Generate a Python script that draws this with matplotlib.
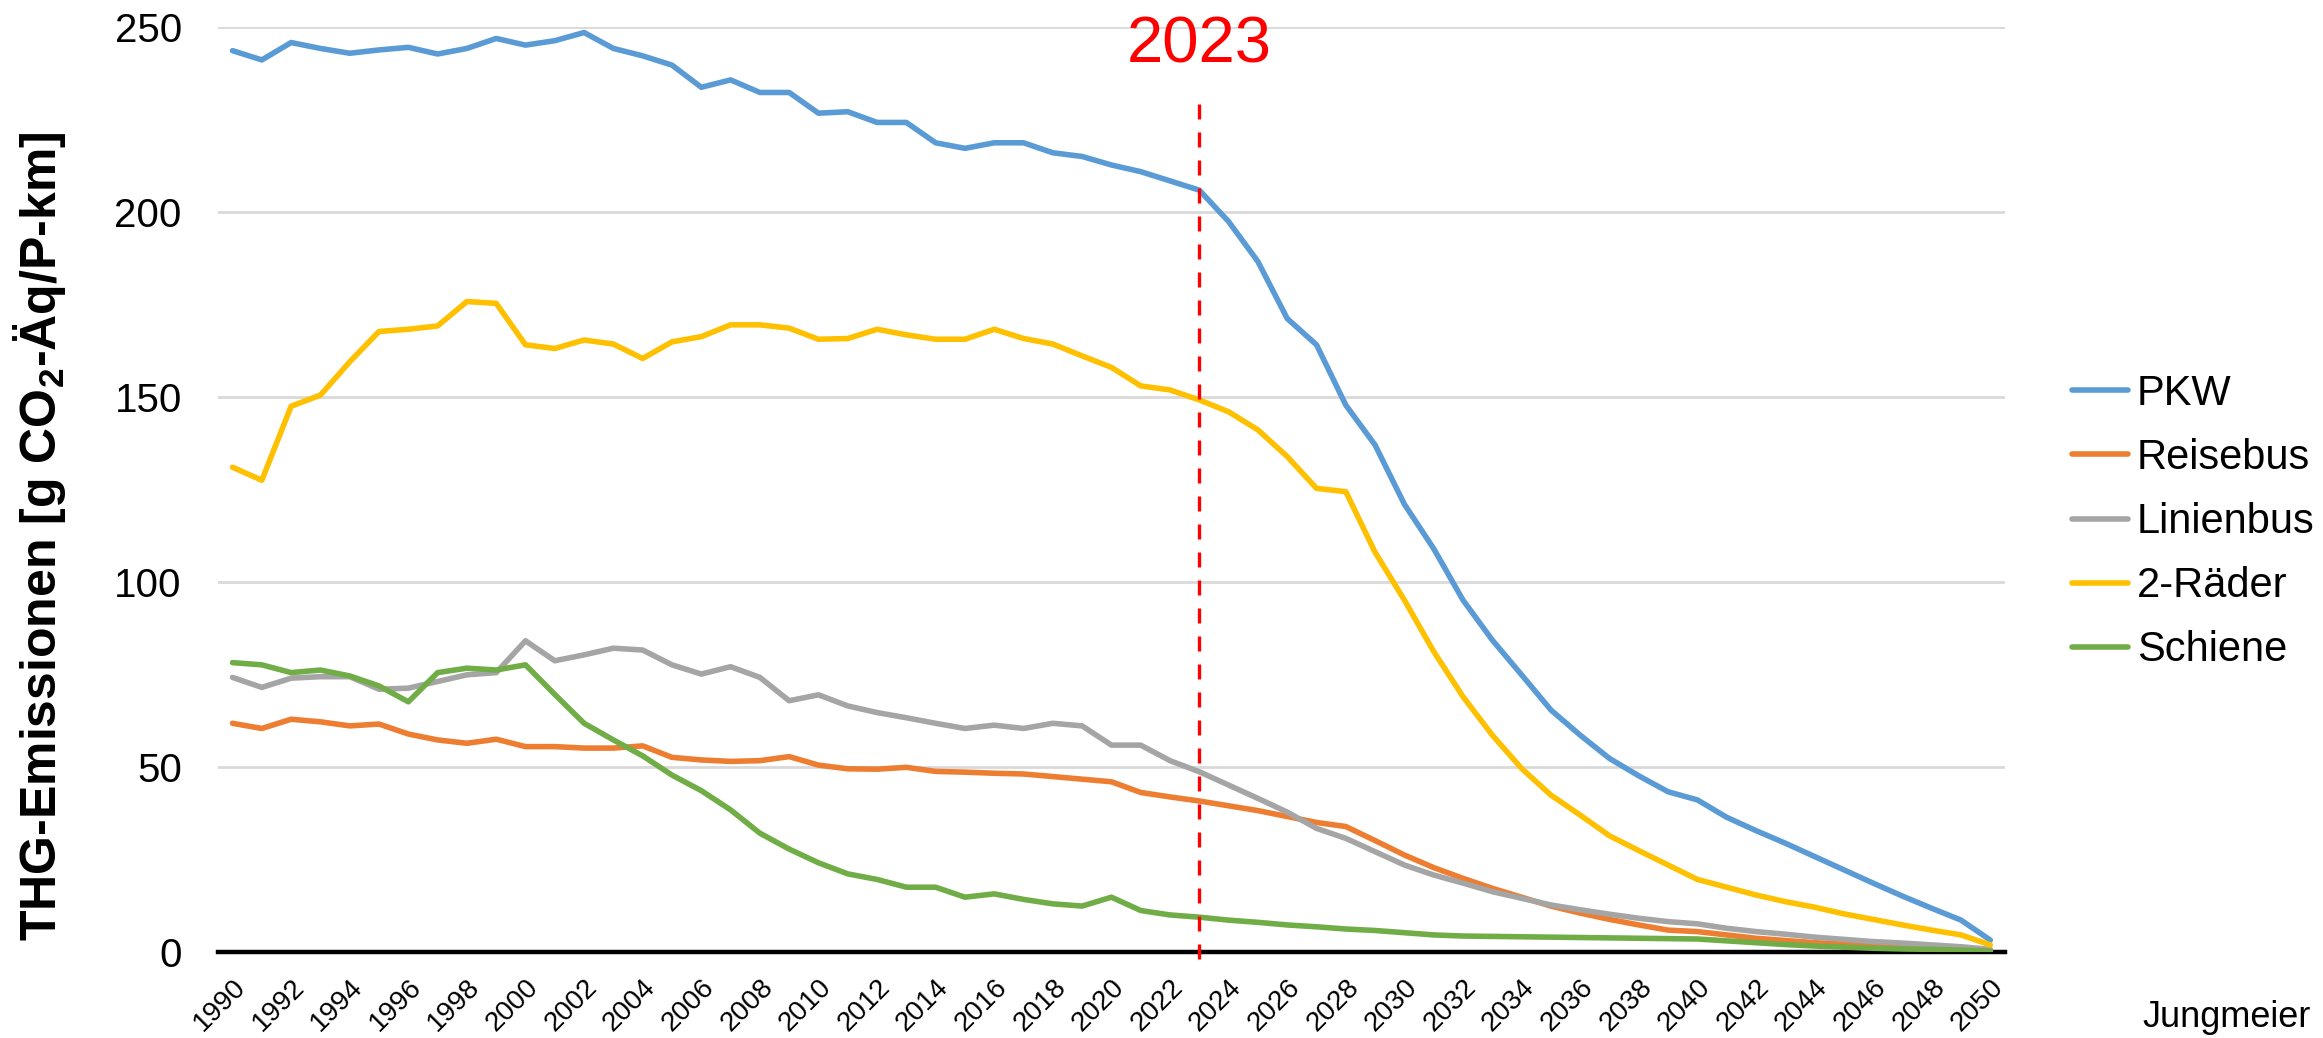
import matplotlib
matplotlib.use("Agg")
import matplotlib.pyplot as plt

plt.rcParams['font.family'] = ['Liberation Sans', 'DejaVu Sans']
plt.rcParams['mathtext.fontset'] = 'custom'
plt.rcParams['mathtext.bf'] = 'Liberation Sans:bold'
plt.rcParams['mathtext.rm'] = 'Liberation Sans:bold'
plt.rcParams['mathtext.default'] = 'bf'

years = list(range(1990, 2051))

pkw = [243.6, 241.1, 245.8, 244.2, 242.9, 243.8, 244.5, 242.7, 244.2, 246.9,
       245.1, 246.3, 248.5, 244.2, 242.2, 239.7, 233.7, 235.7, 232.3, 232.3,
       226.7, 227.1, 224.2, 224.2, 218.7, 217.2, 218.7, 218.7, 216.0, 215.0,
       212.7, 210.9, 208.4, 205.9, 197.4, 186.6, 171.2, 164.1, 147.8, 137.0,
       121.0, 109.0, 95.1, 84.3, 74.9, 65.4, 58.6, 52.3, 47.6, 43.3,
       41.1, 36.4, 32.8, 29.4, 25.8, 22.2, 18.6, 15.1, 11.8, 8.6,
       3.2]
reisebus = [61.8, 60.4, 62.9, 62.2, 61.1, 61.6, 58.9, 57.3, 56.4, 57.5,
            55.5, 55.5, 55.1, 55.1, 55.7, 52.6, 51.9, 51.5, 51.7, 52.8,
            50.5, 49.5, 49.4, 49.9, 48.8, 48.6, 48.3, 48.1, 47.4, 46.7,
            46.0, 43.1, 41.9, 40.8, 39.5, 38.2, 36.6, 35.0, 33.9, 30.1,
            26.2, 22.8, 19.9, 17.2, 14.8, 12.4, 10.5, 8.8, 7.3, 5.9,
            5.5, 4.6, 3.7, 3.1, 2.5, 2.1, 1.7, 1.4, 1.1, 0.8,
            0.4]
linienbus = [74.2, 71.5, 74.0, 74.4, 74.4, 71.0, 71.3, 73.1, 74.9, 75.5,
             84.1, 78.7, 80.3, 82.1, 81.6, 77.6, 75.1, 77.1, 74.2, 67.9,
             69.5, 66.5, 64.7, 63.3, 61.8, 60.4, 61.3, 60.4, 61.8, 61.1,
             55.9, 55.9, 51.7, 48.7, 45.1, 41.5, 37.8, 33.4, 30.7, 27.1,
             23.5, 20.8, 18.6, 16.3, 14.5, 12.7, 11.4, 10.2, 9.1, 8.2,
             7.6, 6.4, 5.5, 4.8, 4.0, 3.4, 2.8, 2.4, 1.9, 1.4,
             0.7]
zweiraeder = [131.0, 127.5, 147.5, 150.5, 159.5, 167.7, 168.3, 169.2, 175.8, 175.3,
              164.1, 163.1, 165.4, 164.3, 160.4, 164.9, 166.3, 169.5, 169.5, 168.6,
              165.6, 165.8, 168.3, 166.8, 165.6, 165.6, 168.3, 165.8, 164.3, 161.1,
              158.0, 153.0, 151.9, 149.2, 146.0, 141.1, 133.9, 125.3, 124.4, 108.0,
              95.1, 81.2, 69.0, 58.6, 49.6, 42.4, 37.0, 31.4, 27.4, 23.5,
              19.6, 17.5, 15.4, 13.6, 12.1, 10.3, 8.8, 7.3, 5.9, 4.6,
              1.9]
schiene = [78.2, 77.6, 75.5, 76.2, 74.6, 71.9, 67.6, 75.5, 76.7, 76.2,
           77.6, 69.6, 61.8, 57.3, 53.0, 47.8, 43.6, 38.4, 32.1, 27.8,
           24.1, 21.1, 19.6, 17.5, 17.5, 14.8, 15.7, 14.2, 13.0, 12.4,
           14.8, 11.2, 10.0, 9.4, 8.6, 8.0, 7.3, 6.8, 6.2, 5.8,
           5.2, 4.6, 4.3, 4.2, 4.1, 4.0, 3.9, 3.8, 3.7, 3.6,
           3.5, 3.0, 2.5, 2.0, 1.6, 1.3, 1.0, 0.8, 0.7, 0.5,
           0.2]

series = [
    ("PKW", pkw, "#5B9BD5"),
    ("Reisebus", reisebus, "#ED7D31"),
    ("Linienbus", linienbus, "#A5A5A5"),
    ("2-Räder", zweiraeder, "#FFC000"),
    ("Schiene", schiene, "#70AD47"),
]

fig = plt.figure(figsize=(23.23, 10.38), dpi=100)
ax = fig.add_axes([0.0938, 0.0829, 0.7693, 0.8911])

for name, vals, col in series:
    ax.plot(years, vals, color=col, lw=4, label=name, solid_capstyle='round')

ax.set_xlim(1989.5, 2050.5)
ax.set_ylim(0, 250)
ax.set_yticks([0, 50, 100, 150, 200, 250])
ax.set_xticks(years[::2])
ax.set_xticklabels([str(y) for y in years[::2]], rotation=45, ha='right', va='top',
                   rotation_mode='anchor', fontsize=20)
ax.tick_params(axis='y', length=0, pad=26, labelsize=29)
ax.tick_params(axis='x', length=0, pad=16)

ax.grid(axis='y', color='#D9D9D9', lw=2)
ax.set_axisbelow(True)
for s in ['top', 'right', 'left']:
    ax.spines[s].set_visible(False)
ax.spines['bottom'].set_color('black')
ax.spines['bottom'].set_linewidth(3.2)
ax.spines['bottom'].set_zorder(1.5)

# 2023 marker
ax.plot([2023, 2023], [-1.8, 229.7], color='red', lw=2.4, ls=(0, (4.5, 3.9)), clip_on=False)
ax.text(2023, 240.5, "2023", color='red', fontsize=47, ha='center', va='baseline')

fig.text(0.017, 0.4836, r'THG-Emissionen [g CO$_2$-Äq/P-km]', rotation=90,
         ha='center', va='center', fontsize=36, fontweight='bold')

fig.legend(loc='center left', bbox_to_anchor=(0.892, 0.497), frameon=False,
           fontsize=30, handlelength=1.35, handletextpad=0.2, labelspacing=0.58,
           borderpad=0, borderaxespad=0)

fig.text(0.9948, 0.0106, "Jungmeier", ha='right', va='baseline', fontsize=26,
         family=['Liberation Sans Narrow', 'Liberation Sans'])

fig.savefig("out.png", dpi=100)
